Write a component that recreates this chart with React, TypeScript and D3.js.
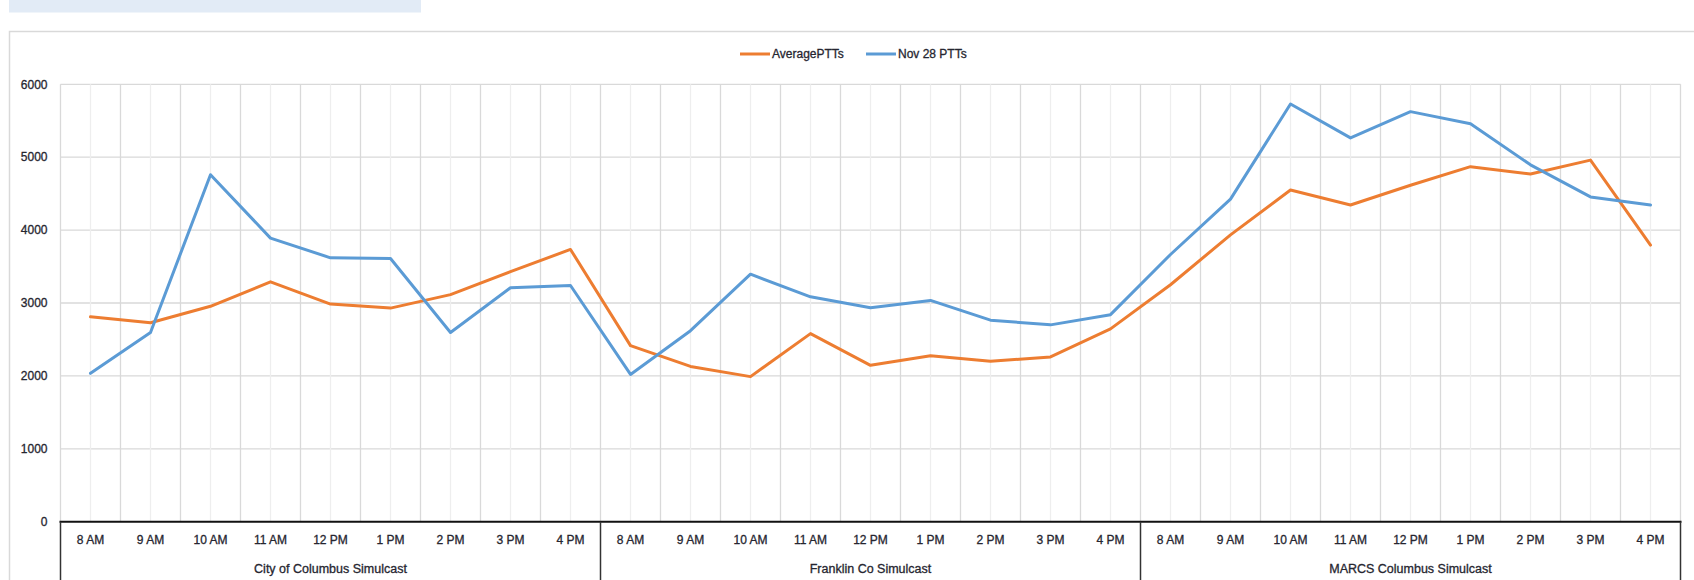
import React from "react";
import * as d3 from "d3";

// Categories: three simulcast systems, each sampled hourly from 8 AM to 4 PM
const groups = ["City of Columbus Simulcast", "Franklin Co Simulcast", "MARCS Columbus Simulcast"];
const hours = ["8 AM", "9 AM", "10 AM", "11 AM", "12 PM", "1 PM", "2 PM", "3 PM", "4 PM"];

// Push-to-talk counts per hour, in group order
const averagePTTs = [
  2810, 2730, 2955, 3290, 2985, 2930, 3115, 3430, 3735,
  2415, 2130, 1990, 2580, 2145, 2275, 2200, 2260, 2645,
  3250, 3935, 4550, 4345, 4615, 4870, 4770, 4960, 3795,
];
const nov28PTTs = [
  2035, 2595, 4760, 3890, 3620, 3610, 2595, 3210, 3240,
  2020, 2620, 3395, 3085, 2935, 3035, 2765, 2700, 2840,
  3665, 4425, 5730, 5265, 5625, 5460, 4895, 4455, 4345,
];
const yTicks = [0, 1000, 2000, 3000, 4000, 5000, 6000];

const seriesNames = ["AveragePTTs", "Nov 28 PTTs"];
const seriesColors = ["#ED7D31", "#5B9BD5"];

const W = 1694;
const H = 580;
const plot = { left: 60.5, right: 1680.5, top: 84.3, bottom: 521.7 };
const FONT = "'Liberation Sans', Arial, sans-serif";
const TEXT = "#262630";

// shared look for all chart text
const txt = { fontSize: 12, fill: TEXT, stroke: TEXT, strokeWidth: 0.3 };

export default function App() {
  const keys = groups.flatMap((g) => hours.map((h) => `${g}|${h}`));
  const x = d3.scaleBand<string>().domain(keys).range([plot.left, plot.right]).padding(0);
  const xg = d3.scaleBand<string>().domain(groups).range([plot.left, plot.right]).padding(0);
  const y = d3.scaleLinear().domain([0, 6000]).range([plot.bottom, plot.top]);
  const bw = x.bandwidth();
  const cx = (k: string) => (x(k) as number) + bw / 2;

  const line = d3
    .line<number>()
    .x((_, i) => cx(keys[i]))
    .y((v) => y(v));

  const series = [averagePTTs, nov28PTTs];

  return (
    <svg
      width={W}
      height={H}
      style={{ position: "absolute", left: 0, top: 0, background: "#fff" }}
      fontFamily={FONT}
    >
      {/* sheet header strip */}
      <rect x={9} y={0} width={412} height={12.5} fill="#e2ebf6" />
      {/* chart area frame */}
      <rect x={9.5} y={31.5} width={W + 20} height={H + 20} fill="none" stroke="#d9d9d9" strokeWidth={1.5} />

      {/* horizontal gridlines */}
      {yTicks.slice(1).map((t) => (
        <line key={`h${t}`} x1={plot.left} x2={plot.right} y1={y(t)} y2={y(t)} stroke="#d9d9d9" strokeWidth={1.3} />
      ))}
      {/* vertical gridlines: light at category centres, darker at boundaries */}
      {keys.map((k) => (
        <line key={`c${k}`} x1={cx(k)} x2={cx(k)} y1={plot.top} y2={plot.bottom} stroke="#eeeeee" strokeWidth={1.3} />
      ))}
      {keys.map((k, i) =>
        i === 0 ? null : (
          <line key={`b${k}`} x1={x(k)} x2={x(k)} y1={plot.top} y2={plot.bottom} stroke="#d9d9d9" strokeWidth={1.3} />
        )
      )}
      <line x1={plot.left} x2={plot.left} y1={plot.top} y2={plot.bottom} stroke="#d9d9d9" strokeWidth={1.3} />
      <line x1={plot.right} x2={plot.right} y1={plot.top} y2={plot.bottom} stroke="#d9d9d9" strokeWidth={1.3} />

      {/* y tick labels */}
      {yTicks.map((t) => (
        <text key={`yl${t}`} x={47.5} y={y(t)} dy="0.35em" textAnchor="end" {...txt}>
          {t}
        </text>
      ))}

      {/* series lines */}
      {series.map((vals, s) => (
        <path
          key={seriesNames[s]}
          d={line(vals) || ""}
          fill="none"
          stroke={seriesColors[s]}
          strokeWidth={3}
          strokeLinejoin="round"
          strokeLinecap="round"
        />
      ))}

      {/* category axis */}
      <line x1={plot.left - 1} x2={plot.right + 1} y1={plot.bottom} y2={plot.bottom} stroke="#111" strokeWidth={2} />
      {groups.map((g) => (
        <line
          key={`sep${g}`}
          x1={xg(g)}
          x2={xg(g)}
          y1={plot.bottom}
          y2={H}
          stroke="#333"
          strokeWidth={1.5}
        />
      ))}
      <line x1={plot.right} x2={plot.right} y1={plot.bottom} y2={H} stroke="#333" strokeWidth={1.5} />
      {keys.map((k) => (
        <text key={`xl${k}`} x={cx(k)} y={540} dy="0.35em" textAnchor="middle" {...txt}>
          {k.split("|")[1]}
        </text>
      ))}
      {groups.map((g) => (
        <text
          key={`gl${g}`}
          x={(xg(g) as number) + xg.bandwidth() / 2}
          y={569}
          dy="0.35em"
          textAnchor="middle"
          {...txt}
          fontSize={12.5}
        >
          {g}
        </text>
      ))}

      {/* legend */}
      {seriesNames.map((n, i) => {
        const lx = [740, 866][i];
        return (
          <g key={`lg${n}`}>
            <line x1={lx} x2={lx + 30} y1={54} y2={54} stroke={seriesColors[i]} strokeWidth={3} />
            <text x={lx + 32} y={54} dy="0.35em" {...txt}>
              {n}
            </text>
          </g>
        );
      })}
    </svg>
  );
}
